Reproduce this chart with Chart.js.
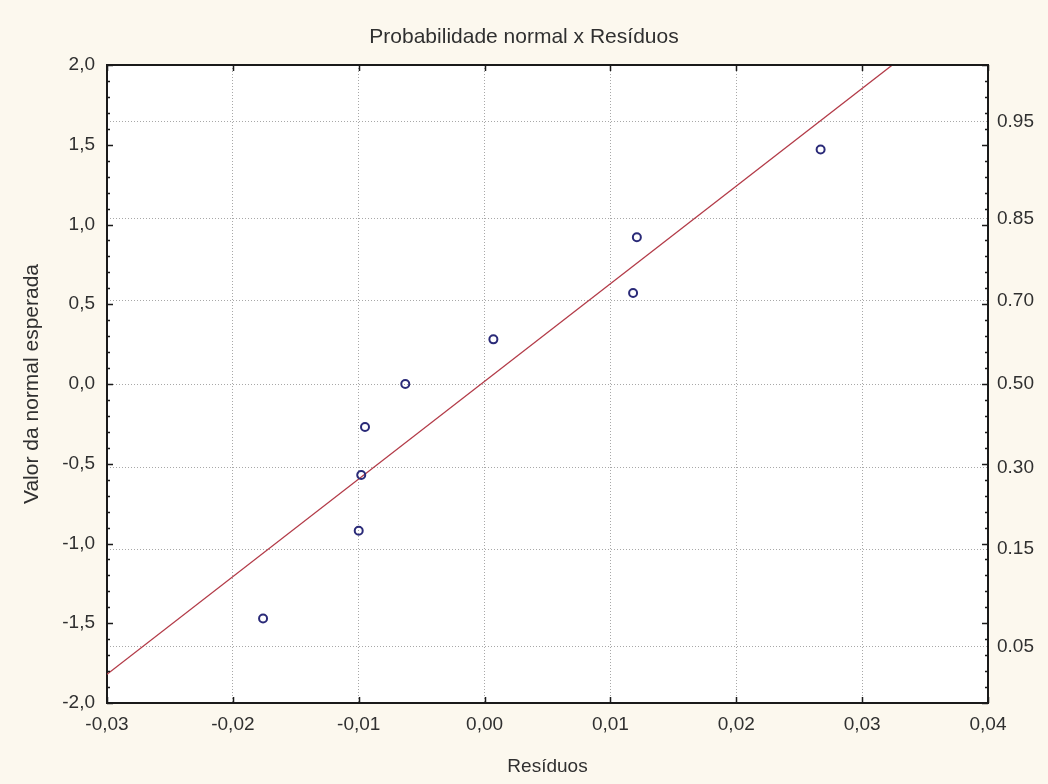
<!DOCTYPE html>
<html>
<head>
<meta charset="utf-8">
<script src="https://cdn.jsdelivr.net/npm/chart.js@4/dist/chart.umd.min.js"></script>
<style>
  html, body { margin: 0; padding: 0; background: #fcf8ee; }
  #wrap { width: 1048px; height: 784px; }
  canvas { background: #fcf8ee; }
</style>
</head>
<body>
<div id="wrap"><canvas id="c" width="1048" height="784"></canvas></div>
<script>
// ---- Data ----
const residuals      = [-0.0176, -0.0100, -0.0098, -0.0095, -0.0063, 0.0007, 0.0118, 0.0121, 0.0267];
const expectedNormal = [-1.47, -0.92, -0.57, -0.27, 0.00, 0.28, 0.57, 0.92, 1.47];
const lineX = [-0.0300, 0.0324];
const lineY = [-1.82, 2.00];
const probLabels = ['0.05', '0.15', '0.30', '0.50', '0.70', '0.85', '0.95'];
const probZ      = [-1.645, -1.036, -0.524, 0.000, 0.524, 1.036, 1.645];
const xTickMin = -0.03, xTickMax = 0.04, xTickStep = 0.01;
const yTickMin = -2, yTickMax = 2, yTickStep = 0.5;

const FONT = 'Liberation Sans, Arial, sans-serif';
const TXT = '#303030';

const scatterData = residuals.map((x, i) => ({x: x, y: expectedNormal[i]}));
const lineData = lineX.map((x, i) => ({x: x, y: lineY[i]}));

const fmtComma = (v, d) => {
  if (Math.abs(v) < 1e-9) v = 0;
  return v.toFixed(d).replace('.', ',');
};

const framePlugin = {
  id: 'frame',
  beforeDraw(chart) {
    const {ctx, chartArea: a} = chart;
    ctx.save();
    ctx.fillStyle = '#ffffff';
    ctx.fillRect(a.left, a.top, a.right - a.left, a.bottom - a.top);
    ctx.restore();
  },
  afterDraw(chart) {
    const {ctx, chartArea: a, scales} = chart;
    ctx.save();
    ctx.strokeStyle = '#1a1a1a';
    ctx.lineWidth = 2;
    ctx.beginPath();
    ctx.moveTo(a.left - 1, a.top);
    ctx.lineTo(a.right + 1, a.top);
    ctx.stroke();
    ctx.lineWidth = 1.5;
    for (let i = -20; i <= 20; i++) {
      const y = Math.round(scales.y.getPixelForValue(i / 10)) + 0.5;
      const len = (i % 5 === 0) ? 6 : 3;
      ctx.beginPath();
      ctx.moveTo(a.left, y); ctx.lineTo(a.left + len, y);
      ctx.moveTo(a.right, y); ctx.lineTo(a.right - len, y);
      ctx.stroke();
    }
    scales.x.ticks.forEach(t => {
      const x = Math.round(scales.x.getPixelForValue(t.value)) + 0.5;
      ctx.beginPath();
      ctx.moveTo(x, a.bottom); ctx.lineTo(x, a.bottom - 6);
      ctx.moveTo(x, a.top); ctx.lineTo(x, a.top + 6);
      ctx.stroke();
    });
    ctx.restore();
  }
};

new Chart(document.getElementById('c'), {
  type: 'scatter',
  data: {
    datasets: [
      {
        type: 'scatter',
        label: 'Resíduos',
        data: scatterData,
        yAxisID: 'y',
        pointStyle: 'circle',
        pointRadius: 4,
        pointHoverRadius: 4,
        pointBorderWidth: 2,
        borderColor: '#2a2a78',
        backgroundColor: 'rgba(255,255,255,0)',
        order: 1
      },
      {
        type: 'line',
        label: 'Normal',
        data: lineData,
        yAxisID: 'y',
        showLine: true,
        borderColor: '#b33b48',
        borderWidth: 1.3,
        pointRadius: 0,
        fill: false,
        order: 2
      }
    ]
  },
  options: {
    responsive: false,
    animation: false,
    devicePixelRatio: 1,
    layout: { padding: 0 },
    plugins: {
      legend: { display: false },
      tooltip: { enabled: false },
      title: {
        display: true,
        text: 'Probabilidade normal x Resíduos',
        color: TXT,
        font: { family: FONT, size: 21, weight: 'normal', lineHeight: 1.2 },
        padding: { top: 24.4, bottom: 15.4 }
      }
    },
    scales: {
      x: {
        type: 'linear',
        position: 'bottom',
        min: xTickMin, max: xTickMax,
        afterFit(s) { s.height = 81; },
        ticks: {
          stepSize: xTickStep,
          color: TXT,
          font: { family: FONT, size: 19 },
          padding: 10,
          callback: v => fmtComma(v, 2)
        },
        grid: { color: '#a8a8a8', lineWidth: 1, drawTicks: false },
        border: { display: true, color: '#1a1a1a', width: 2, dash: [1, 2] },
        title: {
          display: true,
          text: 'Resíduos',
          color: TXT,
          font: { family: FONT, size: 19, lineHeight: 1.2 },
          padding: { top: 0, bottom: 6 }
        }
      },
      y: {
        type: 'linear',
        position: 'left',
        min: yTickMin, max: yTickMax,
        afterFit(s) { s.width = 107; },
        ticks: {
          stepSize: yTickStep,
          color: TXT,
          font: { family: FONT, size: 19 },
          padding: 12,
          callback: v => fmtComma(v, 1)
        },
        grid: { display: false, drawTicks: false },
        border: { display: true, color: '#1a1a1a', width: 2 },
        title: {
          display: true,
          text: 'Valor da normal esperada',
          color: TXT,
          font: { family: FONT, size: 21, lineHeight: 1.2 },
          padding: { top: 19.4, bottom: 0 }
        }
      },
      y2: {
        type: 'linear',
        position: 'right',
        min: yTickMin, max: yTickMax,
        afterFit(s) { s.width = 60; },
        afterBuildTicks(s) { s.ticks = probZ.map(v => ({ value: v })); },
        ticks: {
          autoSkip: false,
          color: TXT,
          font: { family: FONT, size: 19 },
          padding: 9,
          callback: (v) => {
            const i = probZ.indexOf(v);
            return i >= 0 ? probLabels[i] : '';
          }
        },
        grid: { color: '#a8a8a8', lineWidth: 1, drawTicks: false },
        border: { display: true, color: '#1a1a1a', width: 2, dash: [1, 2] }
      }
    }
  },
  plugins: [framePlugin]
});
</script>
</body>
</html>
